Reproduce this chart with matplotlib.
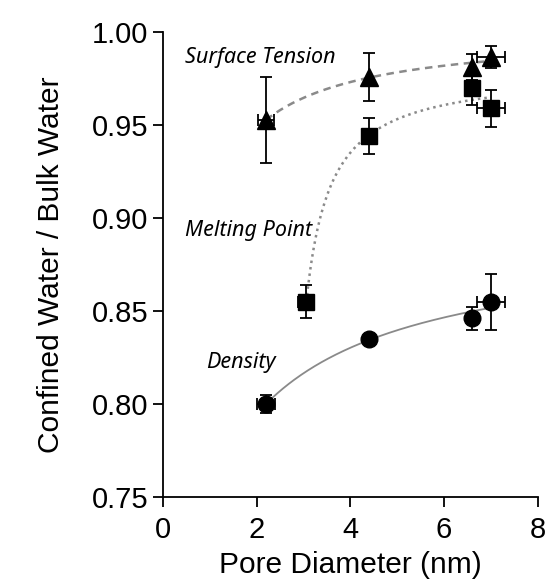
import numpy as np
import matplotlib
matplotlib.use("Agg")
import matplotlib.pyplot as plt

# ---- data ----
st_x = [2.2, 4.4, 6.6, 7.0]
st_y = [0.9527, 0.9758, 0.981, 0.9866]
st_yerr = [0.023, 0.013, 0.007, 0.006]
st_xerr = [0.18, 0.0, 0.0, 0.3]

mp_x = [3.06, 4.4, 6.6, 7.0]
mp_y = [0.855, 0.944, 0.970, 0.959]
mp_yerr = [0.009, 0.0095, 0.009, 0.010]
mp_xerr = [0.17, 0.0, 0.0, 0.3]

de_x = [2.2, 4.4, 6.6, 7.0]
de_y = [0.800, 0.835, 0.846, 0.855]
de_yerr = [0.0048, 0.0, 0.006, 0.015]
de_xerr = [0.19, 0.0, 0.0, 0.3]

x_ticks = [0, 2, 4, 6, 8]
y_ticks = [0.75, 0.80, 0.85, 0.90, 0.95, 1.00]
labels = ["Surface Tension", "Melting Point", "Density"]


def fit_curve(x, y):
    """Least-squares fit y = a + b/(x - c), grid search over c."""
    x = np.asarray(x, float)
    y = np.asarray(y, float)
    best = None
    for c in np.linspace(-6, x.min() - 0.3, 400):
        A = np.column_stack([np.ones_like(x), 1.0 / (x - c)])
        coef, *_ = np.linalg.lstsq(A, y, rcond=None)
        r = np.sum((A @ coef - y) ** 2)
        if best is None or r < best[0]:
            best = (r, coef, c)
    _, (a, b), c = best
    xs = np.linspace(x.min(), x.max(), 200)
    return xs, a + b / (xs - c)


plt.rcParams['font.family'] = ['Liberation Sans', 'DejaVu Sans']
fig = plt.figure(figsize=(5.46, 5.81), dpi=100)
ax = fig.add_axes([0.2985, 0.1446, 0.6865, 0.8004])

# fitted curves
xs, ys = fit_curve(st_x, st_y)
ax.plot(xs, ys, ls=(0, (3, 2.2)), color='#8a8a8a', lw=1.8, zorder=1)
xs, ys = fit_curve(mp_x, mp_y)
ax.plot(xs, ys, ls=(0, (1, 1.6)), color='#8a8a8a', lw=1.8, zorder=1)
xs, ys = fit_curve(de_x, de_y)
ax.plot(xs, ys, ls='-', color='#8a8a8a', lw=1.3, zorder=1)

ekw = dict(fmt='none', ecolor='black', elinewidth=1.3, capsize=4.5, capthick=1.3, zorder=2)
ax.errorbar(st_x, st_y, yerr=st_yerr, xerr=st_xerr, **ekw)
ax.errorbar(mp_x, mp_y, yerr=mp_yerr, xerr=mp_xerr, **ekw)
ax.errorbar(de_x, de_y, yerr=de_yerr, xerr=de_xerr, **ekw)

ax.plot(st_x, st_y, ls='none', marker='^', ms=12.5, color='black', zorder=3)
ax.plot(mp_x, mp_y, ls='none', marker='s', ms=11.5, color='black', zorder=3)
ax.plot(de_x, de_y, ls='none', marker='o', ms=12, color='black', zorder=3)

tkw = dict(family=['Noto Sans', 'DejaVu Sans'], style='italic', fontsize=15.5,
           ha='left', va='center', color='black')
ax.text(0.47, 0.9862, labels[0], **tkw)
ax.text(0.47, 0.8930, labels[1], **tkw)
ax.text(0.92, 0.8222, labels[2], **tkw)

ax.set_xlim(0, 8)
ax.set_ylim(0.75, 1.00)
ax.set_xticks(x_ticks)
ax.set_yticks(y_ticks)
ax.set_xticklabels([str(v) for v in x_ticks])
ax.set_yticklabels([f"{v:.2f}" for v in y_ticks])
for s in ['top', 'right']:
    ax.spines[s].set_visible(False)
for s in ['left', 'bottom']:
    ax.spines[s].set_linewidth(1.3)
ax.tick_params(direction='out', length=7.5, width=1.3, labelsize=21, pad=3)
ax.tick_params(axis='x', pad=6.5)
ax.set_xlabel("Pore Diameter (nm)", fontsize=21.5, labelpad=5)
ax.set_ylabel("Confined Water / Bulk Water", fontsize=21.5, labelpad=19)

fig.savefig("out.png", dpi=100)
